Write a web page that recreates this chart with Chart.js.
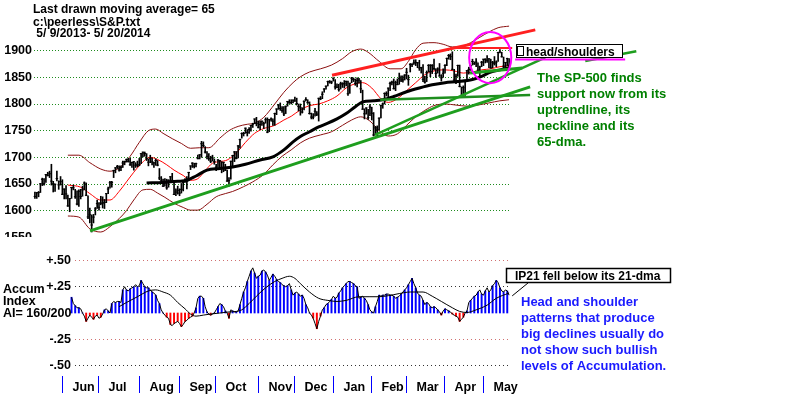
<!DOCTYPE html>
<html>
<head>
<meta charset="utf-8">
<script src="https://cdn.jsdelivr.net/npm/chart.js@4.4.1/dist/chart.umd.min.js"></script>
<style>
  html, body { margin: 0; padding: 0; background: #fff; }
  #wrap { position: relative; width: 800px; height: 395px; overflow: hidden; }
  #top  { position: absolute; left: 0; top: 0; }
  #bot  { position: absolute; left: 0; top: 237px; background: #fff; }
</style>
</head>
<body>
<div id="wrap">
  <canvas id="top" width="800" height="250"></canvas>
  <canvas id="bot" width="800" height="158"></canvas>
</div>
<script>
/* ---------------- DATA : S&P 500 daily bars 5/9/2013 - 5/20/2014 ---------------- */
const closes = [
  1626.7,1633.7,1633.8,1650.3,1658.8,1650.5,1667.5,1666.3,1669.2,1655.4,1650.5,1649.6,1660.1,1648.4,1654.4,1630.7,
  1640.4,1631.4,1608.9,1622.6,1643.4,1642.8,1626.1,1612.5,1636.4,1626.7,1639.0,1651.8,1628.9,1588.2,1592.4,1573.1,1588.0,1603.3,1613.2,1606.3,
  1614.1,1614.1,1615.4,1631.9,1640.5,1652.3,1652.6,1675.0,1680.2,1682.5,1676.3,1680.9,1689.4,1692.1,1695.5,1692.4,1685.9,1690.3,1691.7,1685.3,1685.9,1685.7,
  1706.9,1709.7,1707.1,1697.4,1690.9,1697.5,1691.4,1689.5,1694.2,1685.4,1661.3,1655.8,1646.1,1652.4,1642.8,1656.9,1663.5,1656.8,1630.5,1634.9,1638.2,1632.9,
  1639.8,1653.1,1655.1,1655.2,1671.7,1683.9,1689.1,1683.4,1688.0,1697.6,1704.8,1725.5,1722.3,1709.9,1701.8,1697.4,1692.8,1698.7,1691.8,1681.6,
  1695.0,1693.9,1678.7,1690.5,1676.1,1655.5,1656.4,1692.6,1703.2,1710.1,1698.1,1721.5,1733.2,1744.5,1744.7,1754.7,1746.4,1752.1,1759.8,1762.1,1771.9,1763.3,1756.5,
  1761.6,1767.9,1763.0,1770.5,1747.2,1770.6,1771.9,1767.7,1782.0,1790.6,1798.2,1791.5,1787.9,1781.4,1795.9,1804.8,1802.5,1802.8,1807.2,1805.8,
  1800.9,1795.2,1792.8,1785.0,1805.1,1808.4,1802.6,1782.2,1775.5,1775.3,1786.5,1781.0,1810.7,1809.6,1818.3,1828.0,1833.3,1842.0,1841.4,1841.1,1848.4,
  1832.0,1831.4,1826.8,1837.9,1837.5,1838.1,1842.4,1819.2,1838.9,1848.4,1845.9,1838.7,1843.8,1844.9,1828.5,1790.3,1781.6,1792.5,1774.2,1794.2,1782.6,
  1741.9,1755.2,1751.6,1773.4,1797.0,1800.0,1819.8,1819.3,1829.8,1838.6,1840.8,1828.8,1839.8,1836.3,1847.6,1845.1,1845.2,1854.3,1859.5,
  1845.7,1873.9,1873.8,1877.0,1878.0,1877.2,1867.6,1868.2,1846.3,1841.1,1858.8,1872.3,1860.8,1872.0,1866.5,1857.4,1865.6,1852.6,1849.0,1857.6,1872.3,
  1885.5,1890.9,1888.8,1865.1,1845.0,1852.0,1872.2,1833.1,1815.7,1830.6,1843.0,1862.3,1864.9,1871.9,1879.6,1875.4,1878.6,1863.4,1869.4,1878.3,1884.0,
  1883.7,1881.1,1884.7,1867.7,1878.2,1875.6,1878.5,1896.7,1897.5,1888.5,1870.9,1877.9,1885.1,1872.8
];
const highs = [
  1635,1634,1636,1651,1661,1660,1668,1672,1674,1687,1655,1650,1674,1656,1664,1658,
  1641,1647,1629,1623,1644,1648,1640,1637,1639,1640,1646,1654,1652,1628,1605,1592,1593,1606,1620,1615,
  1627,1626,1621,1632,1644,1655,1655,1676,1681,1685,1684,1684,1693,1693,1697,1698,1698,1691,1692,1690,1693,1698,
  1707,1710,1710,1707,1697,1704,1699,1691,1697,1694,1679,1664,1659,1660,1659,1658,1664,1670,1652,1641,1646,1641,
  1651,1655,1660,1664,1672,1684,1690,1689,1689,1704,1705,1730,1729,1720,1711,1707,1702,1704,1697,1687,
  1696,1694,1692,1691,1687,1676,1662,1693,1704,1711,1711,1722,1734,1746,1747,1755,1752,1756,1760,1764,1772,1775,1768,
  1768,1768,1766,1774,1774,1771,1774,1772,1783,1791,1799,1802,1795,1795,1796,1805,1808,1808,1808,1813,
  1811,1800,1800,1793,1806,1812,1808,1804,1783,1782,1792,1786,1811,1814,1823,1829,1834,1843,1844,1843,1849,
  1846,1838,1837,1841,1840,1844,1843,1843,1839,1850,1849,1847,1849,1848,1844,1826,1791,1793,1790,1799,1794,
  1784,1758,1759,1774,1798,1802,1821,1823,1830,1841,1843,1847,1843,1847,1858,1853,1853,1855,1867,
  1854,1876,1876,1883,1883,1878,1882,1869,1874,1852,1862,1874,1874,1874,1884,1866,1868,1876,1855,1866,1874,
  1886,1893,1894,1898,1865,1856,1873,1873,1832,1834,1844,1863,1869,1872,1884,1879,1885,1877,1871,1880,1884,
  1885,1891,1885,1884,1880,1889,1881,1897,1902,1897,1888,1878,1886,1885
];
const lows = [
  1623,1623,1626,1634,1647,1648,1653,1665,1662,1648,1635,1636,1656,1640,1648,1630,
  1622,1622,1608,1598,1623,1639,1623,1611,1608,1622,1627,1639,1628,1585,1577,1560,1577,1592,1604,1601,
  1611,1605,1604,1615,1632,1642,1644,1662,1671,1679,1674,1675,1681,1686,1691,1691,1685,1681,1676,1681,1682,1684,
  1688,1701,1702,1694,1684,1690,1686,1681,1685,1684,1658,1654,1645,1646,1640,1644,1655,1656,1630,1628,1631,1628,
  1633,1637,1653,1641,1656,1677,1681,1680,1682,1697,1697,1700,1720,1708,1697,1694,1690,1693,1687,1675,
  1681,1680,1671,1673,1675,1655,1646,1659,1683,1692,1697,1699,1717,1736,1740,1745,1740,1745,1749,1756,1763,1759,1755,
  1752,1760,1754,1764,1746,1748,1768,1760,1760,1780,1790,1788,1784,1778,1782,1796,1801,1800,1802,1805,
  1798,1787,1779,1783,1789,1806,1801,1781,1772,1772,1777,1778,1768,1808,1810,1822,1828,1834,1839,1838,1843,
  1828,1830,1824,1828,1831,1830,1834,1816,1820,1840,1842,1835,1832,1839,1821,1790,1772,1781,1771,1778,1770,
  1740,1742,1738,1752,1774,1792,1800,1815,1810,1825,1836,1828,1825,1836,1837,1842,1841,1845,1847,
  1835,1860,1870,1874,1872,1868,1863,1858,1842,1839,1842,1860,1851,1857,1864,1850,1858,1852,1843,1850,1858,
  1872,1884,1883,1864,1840,1838,1852,1832,1815,1816,1816,1845,1856,1863,1873,1874,1870,1860,1851,1870,1872,
  1877,1878,1868,1867,1868,1873,1870,1880,1896,1888,1863,1865,1872,1869
];

/* bands and averages, [day index, value] */
const upperBand = [[18,1704],[24,1704],[30,1690],[36,1678],[41,1674],[46,1680],[52,1702],[57,1728],[62,1750],[66,1753],
  [70,1745],[75,1735],[80,1726],[85,1717],[90,1718],[95,1718],[101,1736],[106,1750],[111,1758],[116,1762],[120,1764],
  [125,1775],[131,1800],[136,1822],[141,1840],[145,1851],[150,1860],[156,1866],[162,1873],[168,1885],[173,1898],[178,1903],
  [182,1897],[188,1880],[194,1866],[200,1866],[204,1880],[208,1902],[212,1914],[218,1915],[223,1912],[228,1907],[233,1908],
  [238,1915],[243,1925],[248,1935],[253,1943],[259,1946]];
const midBand = [[18,1648],[25,1644],[30,1632],[36,1620],[41,1620],[46,1636],[50,1654],[54,1672],[58,1688],[63,1700],
  [67,1696],[72,1686],[76,1676],[81,1666],[85,1657],[89,1660],[93,1675],[97,1689],[101,1692],[105,1695],[110,1708],
  [115,1728],[120,1745],[125,1754],[131,1760],[136,1770],[140,1777],[145,1789],[150,1797],[155,1800],[160,1806],[165,1815],
  [170,1830],[175,1838],[179,1840],[184,1830],[189,1810],[193,1803],[198,1810],[203,1825],[208,1840],[213,1855],[218,1862],
  [224,1864],[229,1862],[234,1858],[239,1860],[244,1864],[249,1866],[254,1870],[259,1872]];
const lowerBand = [[18,1590],[24,1588],[30,1566],[36,1560],[41,1570],[46,1585],[50,1600],[54,1620],[59,1639],[63,1640],
  [67,1633],[71,1625],[76,1614],[81,1606],[85,1601],[89,1601],[94,1612],[99,1626],[104,1632],[108,1636],[114,1645],
  [119,1654],[125,1668],[130,1686],[135,1702],[140,1714],[145,1727],[150,1736],[156,1742],[162,1748],[168,1760],[173,1770],
  [178,1776],[183,1768],[188,1750],[193,1740],[198,1744],[203,1760],[208,1776],[213,1788],[218,1797],[224,1800],[230,1798],
  [236,1796],[242,1798],[248,1802],[254,1806],[259,1808]];
const ma65 = [[61,1652],[70,1653],[78,1655],[83,1657],[88,1665],[94,1676],[101,1679],[108,1682],[115,1687],[123,1695],
  [130,1701],[136,1714],[141,1729],[145,1739],[150,1748],[155,1757],[160,1764],[165,1772],[170,1782],[175,1795],[179,1804],
  [185,1806],[190,1808],[196,1814],[203,1823],[210,1830],[217,1836],[224,1840],[231,1842],[239,1846],[244,1852],[249,1860],
  [254,1864],[259,1868]];

/* hand-drawn lines, [day index, price] */
const upTrend     = [[30.1,1562],[270.5,1832]];
const steepTrend  = [[185.8,1742],[278.7,1887]];
const neckLine    = [[188.6,1808],[270.5,1817]];
const hsNeck      = [[237.7,1858],[266.2,1867.6]];
const hsNeckExt   = [[300.6,1880.7],[328.5,1899]];
const topTrend    = [[162.3,1854],[273.3,1939]];
const headTop     = [[226.8,1905],[260.7,1905]];
const hsUnderline = [[262.3,1883.5],[322.4,1883.5]];
const hsCircle    = { i: 248.7, v: 1887, ri: 11.5, rv: 48 };

const priceTicks = [1550, 1600, 1650, 1700, 1750, 1800, 1850, 1900];

/* accumulation index, one value per day starting at day 20 */
const aiStart = 20;
const aiValues = [
  0.15,0.09,0.07,0.05,0.05,0.04,0.00,-0.03,-0.08,-0.05,
  -0.02,-0.04,-0.06,-0.03,-0.02,-0.05,-0.04,-0.01,0.03,0.04,
  0.02,0.00,0.09,0.11,0.10,0.11,0.11,0.10,0.22,0.25,
  0.22,0.21,0.23,0.24,0.25,0.27,0.25,0.26,0.31,0.28,
  0.25,0.24,0.24,0.22,0.20,0.19,0.17,0.12,0.09,0.03,
  0.00,-0.02,-0.04,-0.05,-0.11,-0.12,-0.10,-0.09,-0.08,-0.10,
  -0.13,-0.11,-0.08,-0.07,-0.05,-0.04,-0.03,0.00,0.05,0.14,
  0.16,0.16,0.14,0.06,0.01,-0.01,-0.02,-0.01,0.00,0.03,
  0.06,0.09,0.08,0.06,0.02,0.00,-0.05,0.03,0.02,0.01,
  0.01,0.02,0.08,0.14,0.20,0.24,0.30,0.35,0.40,0.43,
  0.38,0.33,0.35,0.36,0.40,0.41,0.39,0.36,0.31,0.34,
  0.37,0.35,0.32,0.30,0.29,0.27,0.26,0.25,0.26,0.28,
  0.22,0.17,0.19,0.20,0.18,0.16,0.17,0.14,0.08,0.05,
  0.00,-0.02,-0.05,-0.10,-0.15,-0.08,-0.03,0.03,0.05,0.08,
  0.09,0.11,0.13,0.16,0.14,0.15,0.19,0.21,0.24,0.26,
  0.28,0.30,0.30,0.29,0.28,0.26,0.25,0.14,0.15,0.16,
  0.14,0.12,0.08,0.03,0.01,0.00,0.06,0.11,0.17,0.16,
  0.17,0.17,0.18,0.18,0.17,0.17,0.16,0.14,0.15,0.16,
  0.18,0.20,0.22,0.24,0.27,0.30,0.33,0.28,0.24,0.19,
  0.17,0.16,0.12,0.08,0.10,0.09,0.06,0.05,0.06,0.05,
  0.03,0.01,-0.02,0.02,0.04,0.03,0.02,0.01,-0.01,-0.02,
  -0.03,-0.04,-0.08,-0.06,-0.04,0.00,0.02,0.10,0.12,0.14,
  0.16,0.17,0.20,0.22,0.18,0.17,0.21,0.24,0.20,0.22,
  0.26,0.28,0.31,0.29,0.24,0.21,0.20,0.22,0.21,0.17
];
const aiMa21 = [[46,0.06],[50,0.10],[56,0.155],[62,0.21],[66,0.22],[70,0.20],[74,0.17],[78,0.10],[82,0.04],[85,-0.01],
  [88,-0.03],[92,-0.02],[96,-0.01],[101,0.0],[106,0.01],[110,0.015],[113,0.03],[117,0.09],[121,0.16],[126,0.24],[131,0.30],
  [135,0.33],[139,0.35],[142,0.33],[145,0.28],[150,0.20],[155,0.14],[160,0.12],[165,0.11],[170,0.12],[177,0.155],[183,0.155],
  [188,0.155],[193,0.165],[199,0.185],[205,0.20],[212,0.20],[217,0.16],[222,0.11],[228,0.05],[232,0.015],[236,0.005],
  [241,0.03],[247,0.075],[252,0.14],[259,0.19]];
const ipConnector = [[260.7,0.163],[269.4,0.287]];
const aiTicks  = [-0.5, -0.25, 0.25, 0.5];
const aiLabels = { '-0.5': '-.50', '-0.25': '-.25', '0.25': '+.25', '0.5': '+.50' };

const months      = ['Jun','Jul','Aug','Sep','Oct','Nov','Dec','Jan','Feb','Mar','Apr','May'];
const monthStarts = [16, 36, 58, 80, 100, 123, 143, 164, 185, 204, 225, 246];

/* ---------------- helpers ---------------- */
const FONT = "'Liberation Sans', Arial, Helvetica, sans-serif";
const pts  = arr => arr.map(([x, y]) => ({ x, y }));
const line = (data, color, width, extra = {}) => Object.assign({
  type: 'line', data: pts(data), borderColor: color, borderWidth: width,
  pointRadius: 0, fill: false, clip: false
}, extra);
const smooth = { cubicInterpolationMode: 'monotone' };

function text(ctx, str, x, y, color, size) {
  ctx.font = `bold ${size}px ${FONT}`;
  ctx.fillStyle = color;
  ctx.textAlign = 'left';
  ctx.textBaseline = 'alphabetic';
  ctx.fillText(str, x, y);
}

/* ---------------- price panel ---------------- */
const topNotes = {
  id: 'topNotes',
  afterDatasetsDraw(chart) {
    const { ctx, scales: { x, y } } = chart;
    ctx.save();
    // magenta circle round the head
    const cx = x.getPixelForValue(hsCircle.i), cy = y.getPixelForValue(hsCircle.v);
    const rx = x.getPixelForValue(hsCircle.i + hsCircle.ri) - cx;
    const ry = cy - y.getPixelForValue(hsCircle.v + hsCircle.rv);
    ctx.strokeStyle = '#ff00ff';
    ctx.lineWidth = 2;
    ctx.beginPath();
    ctx.ellipse(cx, cy, rx, ry, 0, 0, Math.PI * 2);
    ctx.stroke();

    // head/shoulders label
    ctx.fillStyle = '#fff';
    ctx.fillRect(516, 45, 107, 13);
    ctx.strokeStyle = '#000';
    ctx.lineWidth = 1;
    ctx.strokeRect(516.5, 44.5, 106, 13);
    ctx.strokeRect(517.5, 46.5, 6, 9);
    text(ctx, 'head/shoulders', 526, 55.5, '#000', 12);

    // titles
    text(ctx, 'Last drawn moving average= 65', 33, 12.5, '#000', 12);
    text(ctx, 'c:\\peerless\\S&P.txt', 33, 26, '#000', 12);
    text(ctx, ' 5/ 9/2013- 5/ 20/2014', 33, 37, '#000', 12);

    // green comment
    ['The SP-500 finds', 'support now from its', 'uptrendline, its', 'neckline and its', '65-dma.']
      .forEach((s, k) => text(ctx, s, 537, 82 + k * 16, '#008000', 13));
    ctx.restore();
  }
};

new Chart(document.getElementById('top'), {
  type: 'bar',
  data: {
    datasets: [
      line(upperBand, '#8b1010', 1, Object.assign({ order: 12 }, smooth)),
      line(lowerBand, '#8b1010', 1, Object.assign({ order: 12 }, smooth)),
      line(midBand,   '#ff0000', 1, Object.assign({ order: 11 }, smooth)),
      line(ma65,      '#000000', 3, Object.assign({ order: 10 }, smooth)),
      {
        type: 'bar', order: 9,
        data: closes.map((c, i) => ({ x: i, y: [lows[i], highs[i]] })),
        backgroundColor: '#000', borderWidth: 0, barThickness: 1
      },
      {
        type: 'line', order: 8, showLine: false,
        data: closes.map((c, i) => ({ x: i, y: c })),
        pointStyle: 'line', pointRadius: 1.3, pointBorderWidth: 1,
        pointBorderColor: '#000', pointBackgroundColor: '#000'
      },
      line(upTrend,     '#1e9e1e', 3, { order: 4 }),
      line(steepTrend,  '#1e9e1e', 2.5, { order: 4 }),
      line(neckLine,    '#1e8e1e', 2.5, { order: 4 }),
      line(hsNeck,      '#1e9e1e', 3, { order: 3 }),
      line(hsNeckExt,   '#1e9e1e', 2.5, { order: 3 }),
      line(topTrend,    '#ff2020', 3, { order: 2 }),
      line(headTop,     '#ff2020', 2, { order: 2 }),
      line(hsUnderline, '#ff00ff', 2, { order: 1 })
    ]
  },
  options: {
    responsive: false,
    animation: false,
    devicePixelRatio: 1,
    layout: { padding: { left: 0, right: 290, top: 16, bottom: 10 } },
    plugins: { legend: { display: false }, tooltip: { enabled: false } },
    scales: {
      x: {
        type: 'linear', display: false, offset: false, bounds: 'data',
        afterDataLimits(s) { s.min = -0.5; s.max = 259.5; }
      },
      y: {
        min: 1545, max: 1965,
        afterFit(s) { s.width = 34; },
        afterBuildTicks(s) { s.ticks = priceTicks.map(v => ({ value: v })); },
        ticks: {
          color: '#000', padding: 2, font: { family: FONT, size: 12.5, weight: 'bold' },
          callback: v => String(v)
        },
        grid: { color: '#1e8c1e', drawTicks: false, lineWidth: 1 },
        border: { display: false, dash: [1, 2] }
      }
    }
  },
  plugins: [topNotes]
});

/* ---------------- accumulation panel ---------------- */
const OFF = 237; // bottom canvas top in page
const aiPts  = aiValues.map((v, k) => ({ x: aiStart + k, y: v }));
// the hatching in the original shows a bar on every second day
const aiBars = aiPts.filter((p, k) => k % 2 === 0);

const botNotes = {
  id: 'botNotes',
  afterDraw(chart) {
    const { ctx, scales: { x } } = chart;
    ctx.save();
    text(ctx, 'Accum', 3, 293 - OFF, '#000', 12.5);
    text(ctx, 'Index', 3, 305 - OFF, '#000', 12.5);
    text(ctx, 'AI= 160/200', 3, 317 - OFF, '#000', 12.5);

    // IP21 box
    ctx.fillStyle = '#fff';
    ctx.fillRect(506, 268 - OFF, 165, 14);
    ctx.strokeStyle = '#000';
    ctx.lineWidth = 1.5;
    ctx.strokeRect(506.5, 268.5 - OFF, 164, 14);
    text(ctx, 'IP21 fell below its 21-dma', 515, 279.5 - OFF, '#000', 12);

    ['Head and shoulder', 'patterns that produce', 'big declines usually do', 'not show such bullish', 'levels of Accumulation.']
      .forEach((s, k) => text(ctx, s, 521, 306 - OFF + k * 16, '#1a1aff', 13));

    // month separators and names
    ctx.strokeStyle = '#0000ff';
    ctx.lineWidth = 1;
    monthStarts.forEach((m, k) => {
      const px = Math.round(x.getPixelForValue(m - 1.4)) + 0.5;
      ctx.beginPath();
      ctx.moveTo(px, 376 - OFF);
      ctx.lineTo(px, 393 - OFF);
      ctx.stroke();
      text(ctx, months[k], px + 10, 391 - OFF, '#000', 12.5);
    });
    ctx.restore();
  }
};

new Chart(document.getElementById('bot'), {
  type: 'bar',
  data: {
    datasets: [
      line(aiMa21, '#000', 1, Object.assign({ order: 1 }, smooth)),
      line(ipConnector, '#000', 1, { order: 1 }),
      {
        type: 'line', order: 2, data: aiPts, borderColor: '#000', borderWidth: 1,
        pointRadius: 0, clip: false
      },
      {
        type: 'bar', order: 3, data: aiBars, clip: false,
        backgroundColor: aiBars.map(p => p.y >= 0 ? '#0000ff' : '#ff0000'),
        borderWidth: 0, barThickness: 1.3
      }
    ]
  },
  options: {
    responsive: false,
    animation: false,
    devicePixelRatio: 1,
    layout: { padding: { left: 0, right: 290, top: 13, bottom: 19 } },
    plugins: { legend: { display: false }, tooltip: { enabled: false } },
    scales: {
      x: {
        type: 'linear', display: false, offset: false, bounds: 'data',
        afterDataLimits(s) { s.min = 21.9; s.max = 259.5; }
      },
      y: {
        min: -0.6, max: 0.6,
        afterFit(s) { s.width = 75; },
        afterBuildTicks(s) { s.ticks = aiTicks.map(v => ({ value: v })); },
        ticks: {
          color: '#000', padding: 4, font: { family: FONT, size: 12.5, weight: 'bold' },
          callback: v => aiLabels[String(v)]
        },
        grid: {
          drawTicks: false, lineWidth: 1,
          color: c => (c.tick && (c.tick.value === 0.5 || c.tick.value === -0.25)) ? '#d07070' : '#333'
        },
        border: { display: false, dash: [1, 3] }
      }
    }
  },
  plugins: [botNotes]
});
</script>
</body>
</html>
